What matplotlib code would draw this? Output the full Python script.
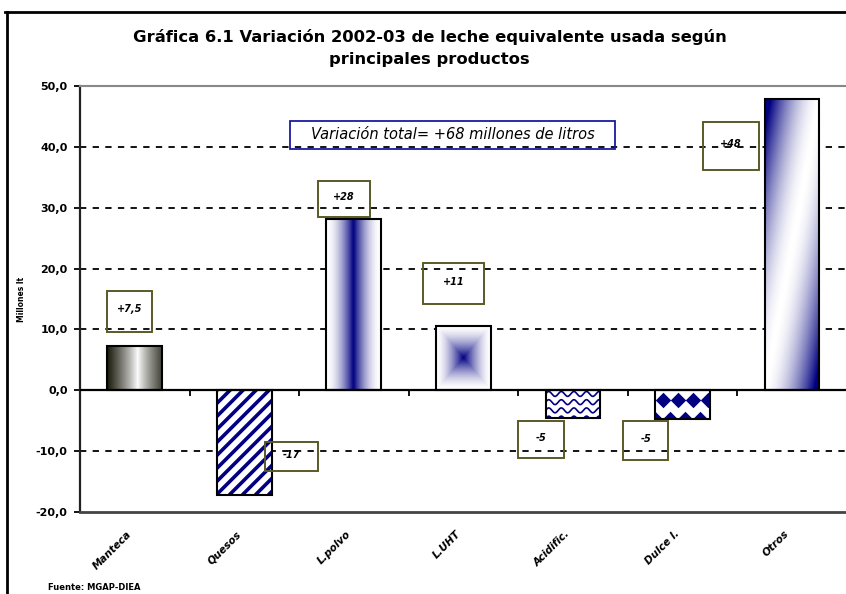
import numpy as np
import matplotlib
matplotlib.use("Agg")
import matplotlib.pyplot as plt
from matplotlib.colors import LinearSegmentedColormap
from matplotlib.patches import Rectangle
from matplotlib.lines import Line2D
import matplotlib.transforms as mtransforms

plt.rcParams['font.family'] = ['DejaVu Sans']

# ---------------- data ----------------
categories = ["Manteca", "Quesos", "L.polvo", "L.UHT", "Acidific.", "Dulce l.", "Otros"]
values = [7.2, -17.2, 28.1, 10.6, -4.6, -4.7, 47.9]
value_labels = ["+7,5", "-17", "+28", "+11", "-5", "-5", "+48"]
yticks = [-20, -10, 0, 10, 20, 30, 40, 50]
ytick_labels = ["-20,0", "-10,0", "0,0", "10,0", "20,0", "30,0", "40,0", "50,0"]
total_label = "Variación total= +68 millones de litros"
title = "Gráfica 6.1 Variación 2002-03 de leche equivalente usada según\nprincipales productos"
ylabel = "Millones lt"
source = "Fuente: MGAP-DIEA"

# label-box layout (x-centre in category units, y-centre in data units)
box_x = [-0.05, 1.43, 1.91, 2.91, 3.71, 4.665, 5.445]
box_y = [13.0, -10.9, 31.5, 17.5, -8.15, -8.3, 40.2]
box_w = [0.41, 0.48, 0.48, 0.55, 0.42, 0.41, 0.51]
box_h = [6.7, 4.8, 5.9, 6.7, 6.1, 6.4, 7.9]

NAVY = "#000080"

fig = plt.figure(figsize=(8.46, 5.94), dpi=100)
ax = fig.add_axes([80/846, 1-512/594, (846-80)/846 + 0.001, (512-86)/594])

x = np.arange(len(categories))
bars = ax.bar(x, values, width=0.5, facecolor="none", edgecolor="black",
              linewidth=1.5, zorder=3)

ax.set_xlim(-0.5, len(categories) - 0.5)
ax.set_ylim(-20, 50)

# pixel scale of the axes (for drawing fill patterns)
px_per_x = (846 - 80) / 7.0
px_per_y = (512 - 86) / 70.0


def grad_image(rect, arr, color):
    x0, y0 = rect.get_x(), rect.get_y()
    w, h = rect.get_width(), rect.get_height()
    cmap = LinearSegmentedColormap.from_list("g", ["white", color])
    im = ax.imshow(arr, extent=[x0, x0 + w, y0, y0 + h], origin="lower",
                   cmap=cmap, vmin=0, vmax=1, aspect="auto", zorder=2.5,
                   interpolation="bilinear")
    im.set_clip_path(rect)


n = 64
u = np.linspace(0, 1, n)
U, V = np.meshgrid(u, u)

# bar 0: dark edges, white centre (horizontal)
grad_image(bars[0], (np.abs(U - 0.56) / 0.56) ** 0.85, "#1a1a0c")
# bar 2: navy centre stripe
grad_image(bars[2], np.clip(1 - 2 * np.abs(U - 0.5), 0, 1) ** 1.8, NAVY)
# bar 3: square gradient from centre
grad_image(bars[3], np.clip(1 - 2 * np.maximum(np.abs(U - 0.5), np.abs(V - 0.5)), 0, 1) ** 1.6, NAVY)
# bar 6: diagonal gradient
grad_image(bars[6], np.clip(np.abs(U - V) * 1.1, 0, 1) ** 1.7, NAVY)

# bar 1: diagonal stripes
r = bars[1]
x0, y0, w, h = r.get_x(), r.get_y(), r.get_width(), r.get_height()
ax.add_patch(Rectangle((x0, y0), w, h, facecolor="white", edgecolor="none", zorder=2.4))
slope = px_per_x / px_per_y
step = 13.0 / px_per_x
ylo, yhi = min(y0, y0 + h), max(y0, y0 + h)
span = (yhi - ylo) / slope
for xs0 in np.arange(x0 - span - step, x0 + w + step, step):
    ln, = ax.plot([xs0, xs0 + span + w], [ylo, ylo + (span + w) * slope],
                  color=NAVY, lw=2.6, solid_capstyle="butt", zorder=2.6)
    ln.set_clip_path(r)

# bar 4: waves
r = bars[4]
x0, y0, w, h = r.get_x(), r.get_y(), r.get_width(), r.get_height()
xs = np.linspace(x0, x0 + w, 200)
ax.add_patch(Rectangle((x0, y0), w, h, facecolor="white", edgecolor="none", zorder=2.4))
for k in range(4):
    yc = -(k * 1.35 + 0.6)
    ln, = ax.plot(xs, yc + 0.4 * np.sin(2 * np.pi * (xs - x0) / 0.115), color=NAVY,
                  lw=1.2, zorder=2.6)
    ln.set_clip_path(r)

# bar 5: diamonds
r = bars[5]
x0, y0, w, h = r.get_x(), r.get_y(), r.get_width(), r.get_height()
ax.add_patch(Rectangle((x0, y0), w, h, facecolor="white", edgecolor="none", zorder=2.4))
sp = 15.0 / px_per_x
dx_top = x0 + sp / 2 + np.arange(5) * sp
dx_bot = x0 + np.arange(5) * sp
s1 = ax.scatter(dx_top, np.full(dx_top.shape, -1.6), marker="D", s=62, color=NAVY,
                linewidths=0, zorder=2.6)
s2 = ax.scatter(dx_bot, np.full(dx_bot.shape, values[5]), marker="D", s=62, color=NAVY,
                linewidths=0, zorder=2.6)
s1.set_clip_path(r)
s2.set_clip_path(r)

# grid
for t in yticks:
    if t not in (-20, 0, 50):
        ax.axhline(t, color="black", lw=1.3, ls=(0, (3.5, 3.5)), zorder=1)
ax.axhline(0, color="black", lw=1.6, zorder=4)

# spines
ax.spines['left'].set_linewidth(1.6)
ax.spines['left'].set_color("#222222")
ax.spines['top'].set_color("#888888")
ax.spines['top'].set_linewidth(1.5)
ax.spines['bottom'].set_color("#444444")
ax.spines['bottom'].set_linewidth(2)
ax.spines['right'].set_visible(False)

ax.set_yticks(yticks)
ax.set_yticklabels(ytick_labels, fontsize=8, fontweight="bold")
ax.tick_params(axis="y", direction="out", length=4, width=1.3, pad=5)

ax.set_xticks(x)
ax.set_xticklabels(categories, rotation=45, ha="right", rotation_mode="anchor",
                   fontsize=7.5, fontweight="bold", style="italic")
ax.tick_params(axis="x", length=0, pad=12)
off = mtransforms.ScaledTranslation(-8 / 100, 0, fig.dpi_scale_trans)
for lab in ax.get_xticklabels():
    lab.set_transform(lab.get_transform() + off)

# boundary ticks on the zero line
sec = ax.secondary_xaxis(20 / 70)
sec.set_xticks(np.arange(len(categories) + 1) - 0.5)
sec.set_xticklabels([])
sec.tick_params(direction="out", length=4, width=1.3)
sec.spines['bottom'].set_visible(False)

ax.set_ylabel(ylabel, fontsize=5.5, fontweight="bold", labelpad=7)

# value boxes
for i in range(len(categories)):
    ax.add_patch(Rectangle((box_x[i] - box_w[i] / 2, box_y[i] - box_h[i] / 2), box_w[i], box_h[i],
                           facecolor="none", edgecolor="#5a5a28", lw=1.4, zorder=5))
    ax.text(box_x[i], box_y[i] + 0.3, value_labels[i], ha="center", va="center",
            fontsize=7, fontweight="bold", style="italic", zorder=6)

# total box
ax.add_patch(Rectangle((1.42, 39.6), 2.96, 4.6, facecolor="none", edgecolor="#1a1aa0",
                       lw=1.3, zorder=5))
ax.text(2.9, 42.0, total_label, ha="center", va="center", fontsize=10.5,
        style="italic", zorder=6)

fig.text(0.508, 1 - 29 / 594, title, ha="center", va="top", fontsize=11.8,
         fontweight="bold", linespacing=1.55)
fig.text(48 / 846, 1 - 588 / 594, source, ha="left", va="center", fontsize=6,
         fontweight="bold")

# outer frame
fig.add_artist(Line2D([7 / 846, 7 / 846], [0, 1 - 12 / 594], transform=fig.transFigure,
                      color="black", lw=2))
fig.add_artist(Line2D([5 / 846, 1], [1 - 12 / 594, 1 - 12 / 594], transform=fig.transFigure,
                      color="black", lw=2))

fig.savefig("out.png", dpi=100)
